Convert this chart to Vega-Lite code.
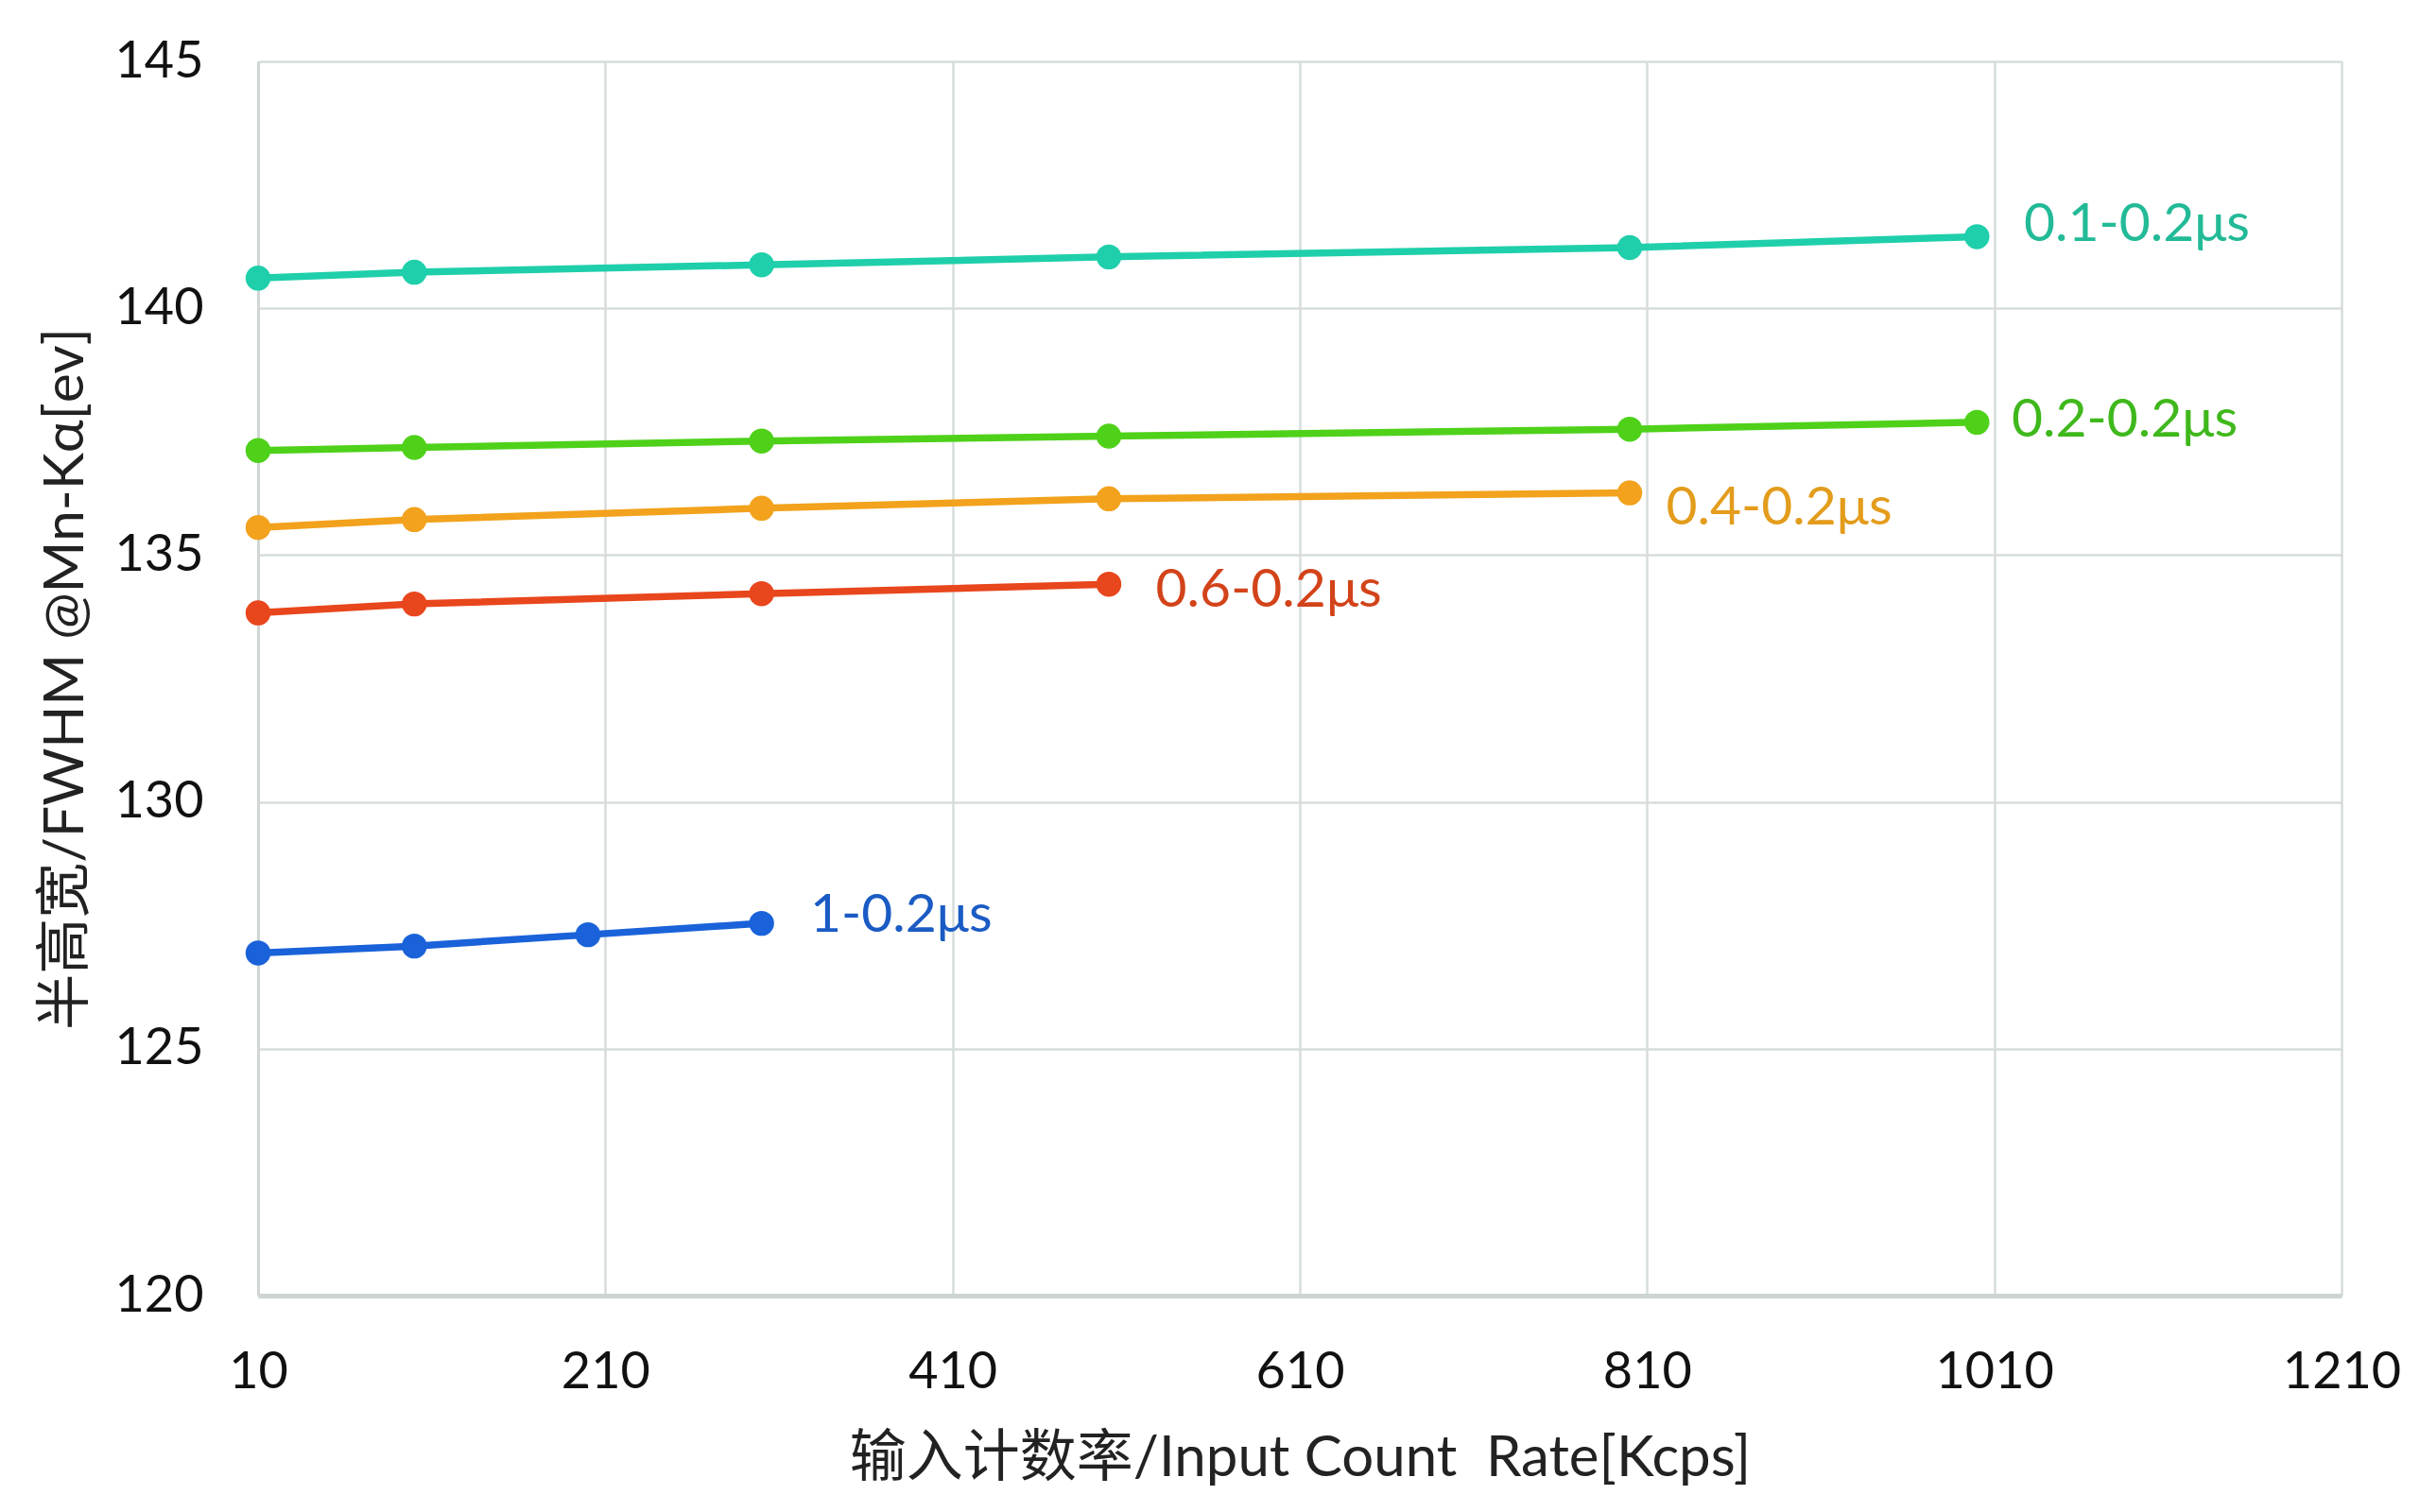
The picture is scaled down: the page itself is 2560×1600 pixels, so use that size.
{
  "$schema": "https://vega.github.io/schema/vega-lite/v6.json",
  "width": 2204,
  "height": 1306,
  "autosize": {"type": "none"},
  "padding": {"left": 273, "top": 65, "right": 83, "bottom": 229},
  "background": "white",
  "config": {
    "font": "Lato, Noto Sans CJK SC",
    "view": {"stroke": null}
  },
  "datasets": {
    "points": [
      {"series": "0.1-0.2μs", "rate": 10, "fwhm": 140.61},
      {"series": "0.1-0.2μs", "rate": 100, "fwhm": 140.73},
      {"series": "0.1-0.2μs", "rate": 300, "fwhm": 140.88},
      {"series": "0.1-0.2μs", "rate": 500, "fwhm": 141.04},
      {"series": "0.1-0.2μs", "rate": 800, "fwhm": 141.23},
      {"series": "0.1-0.2μs", "rate": 1000, "fwhm": 141.45},
      {"series": "0.2-0.2μs", "rate": 10, "fwhm": 137.12},
      {"series": "0.2-0.2μs", "rate": 100, "fwhm": 137.18},
      {"series": "0.2-0.2μs", "rate": 300, "fwhm": 137.31},
      {"series": "0.2-0.2μs", "rate": 500, "fwhm": 137.41},
      {"series": "0.2-0.2μs", "rate": 800, "fwhm": 137.55},
      {"series": "0.2-0.2μs", "rate": 1000, "fwhm": 137.69},
      {"series": "0.4-0.2μs", "rate": 10, "fwhm": 135.56},
      {"series": "0.4-0.2μs", "rate": 100, "fwhm": 135.72},
      {"series": "0.4-0.2μs", "rate": 300, "fwhm": 135.95},
      {"series": "0.4-0.2μs", "rate": 500, "fwhm": 136.14},
      {"series": "0.4-0.2μs", "rate": 800, "fwhm": 136.26},
      {"series": "0.6-0.2μs", "rate": 10, "fwhm": 133.83},
      {"series": "0.6-0.2μs", "rate": 100, "fwhm": 134.01},
      {"series": "0.6-0.2μs", "rate": 300, "fwhm": 134.22},
      {"series": "0.6-0.2μs", "rate": 500, "fwhm": 134.41},
      {"series": "1-0.2μs", "rate": 10, "fwhm": 126.94},
      {"series": "1-0.2μs", "rate": 100, "fwhm": 127.08},
      {"series": "1-0.2μs", "rate": 200, "fwhm": 127.31},
      {"series": "1-0.2μs", "rate": 300, "fwhm": 127.54}
    ],
    "labels": [
      {"series": "0.1-0.2μs", "rate": 1027, "fwhm": 141.68},
      {"series": "0.2-0.2μs", "rate": 1020, "fwhm": 137.73},
      {"series": "0.4-0.2μs", "rate": 821, "fwhm": 135.94},
      {"series": "0.6-0.2μs", "rate": 527, "fwhm": 134.28},
      {"series": "1-0.2μs", "rate": 328, "fwhm": 127.7}
    ]
  },
  "encoding": {
    "x": {
      "field": "rate",
      "type": "quantitative",
      "scale": {"domain": [10, 1210], "nice": false, "zero": false},
      "axis": {
        "values": [10, 210, 410, 610, 810, 1010, 1210],
        "format": "d",
        "title": "输入计数率/Input Count\u00a0 Rate[Kcps]",
        "titleFontSize": 60,
        "titleFontWeight": "normal",
        "titleColor": "#222222",
        "titleY": 172,
        "titleBaseline": "middle",
        "labelFontSize": 54,
        "labelColor": "#111111",
        "labelBaseline": "middle",
        "labelPadding": 81,
        "labelFlush": false,
        "ticks": false,
        "tickSize": 0,
        "grid": true,
        "gridColor": "#d6dcdc",
        "gridWidth": 2.5,
        "domainColor": "#cdd4d4",
        "domainWidth": 5
      }
    },
    "y": {
      "field": "fwhm",
      "type": "quantitative",
      "scale": {"domain": [120, 145], "nice": false, "zero": false},
      "axis": {
        "values": [120, 125, 130, 135, 140, 145],
        "title": "半高宽/FWHM @Mn-Kα[ev]",
        "titleFontSize": 59,
        "titleFontWeight": "normal",
        "titleColor": "#222222",
        "titleX": -204,
        "titleY": 653,
        "titleAngle": -90,
        "titleAlign": "center",
        "titleBaseline": "middle",
        "labelFontSize": 54,
        "labelColor": "#111111",
        "labelPadding": 58,
        "labelFlush": false,
        "ticks": false,
        "tickSize": 0,
        "grid": true,
        "gridColor": "#d6dcdc",
        "gridWidth": 2.5,
        "domainColor": "#cfd6d6",
        "domainWidth": 3
      }
    }
  },
  "layer": [
    {
      "data": {"name": "points"},
      "mark": {"type": "line", "strokeWidth": 7.5, "interpolate": "linear"},
      "encoding": {
        "detail": {"field": "series"},
        "color": {
          "field": "series",
          "type": "nominal",
          "legend": null,
          "scale": {
            "domain": ["0.1-0.2μs", "0.2-0.2μs", "0.4-0.2μs", "0.6-0.2μs", "1-0.2μs"],
            "range": ["#1fcfab", "#4fd11a", "#f2a21c", "#e8461c", "#1a62d9"]
          }
        }
      }
    },
    {
      "data": {"name": "points"},
      "mark": {"type": "circle", "size": 700, "opacity": 1},
      "encoding": {
        "color": {
          "field": "series",
          "type": "nominal",
          "legend": null,
          "scale": {
            "domain": ["0.1-0.2μs", "0.2-0.2μs", "0.4-0.2μs", "0.6-0.2μs", "1-0.2μs"],
            "range": ["#1fcfab", "#4fd11a", "#f2a21c", "#e8461c", "#1a62d9"]
          }
        }
      }
    },
    {
      "data": {"name": "labels"},
      "mark": {"type": "text", "align": "left", "baseline": "middle", "fontSize": 57},
      "encoding": {
        "text": {"field": "series"},
        "fill": {
          "field": "series",
          "type": "nominal",
          "legend": null,
          "scale": {
            "domain": ["0.1-0.2μs", "0.2-0.2μs", "0.4-0.2μs", "0.6-0.2μs", "1-0.2μs"],
            "range": ["#22ba97", "#3fb81c", "#e39c1c", "#d3431a", "#1a5bc4"]
          }
        }
      }
    }
  ]
}
